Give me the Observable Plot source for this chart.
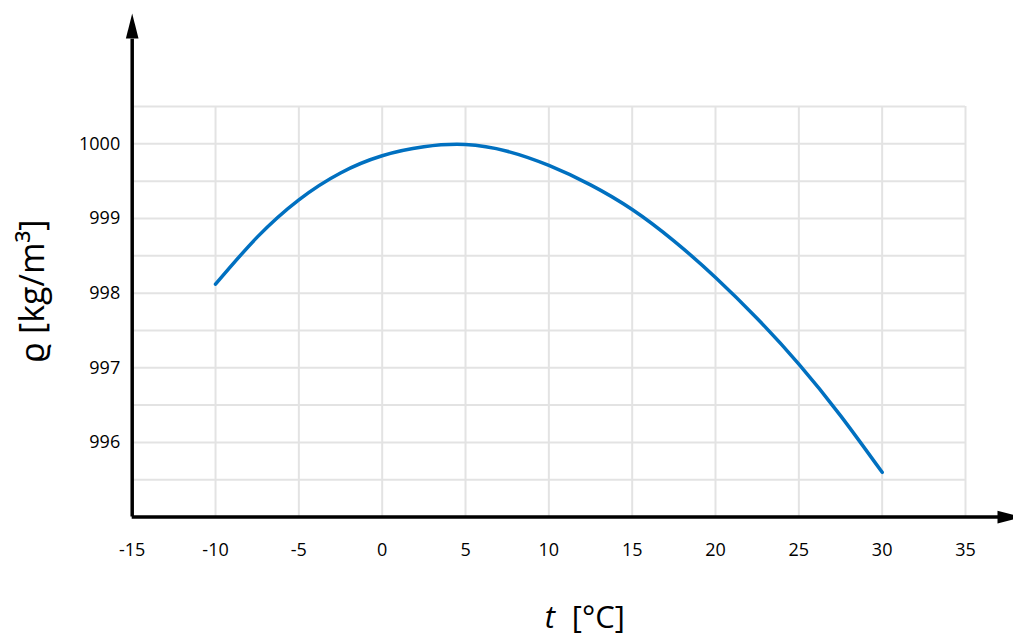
<!DOCTYPE html>
<html><head><meta charset="utf-8">
<script src="https://cdn.jsdelivr.net/npm/d3@7"></script>
<script src="https://cdn.jsdelivr.net/npm/@observablehq/plot@0.6"></script>
<style>body{margin:0;background:#fff} svg{display:block}</style>
</head><body><div id="chart"></div>
<script>
// Water density ϱ [kg/m³] versus temperature t [°C]
const temperature = [-10,-7.5,-5,-2.5,0,2.5,5,7.5,10,12.5,15,17.5,20,22.5,25,27.5,30];
const density = [998.12,998.75,999.25,999.61,999.84,999.96,999.99,999.90,999.71,999.45,999.12,998.70,998.21,997.66,997.05,996.36,995.60];
const xTicks = [-15,-10,-5,0,5,10,15,20,25,30,35];
const yTicks = [996,997,998,999,1000];
const yGrid = [995.5,996,996.5,997,997.5,998,998.5,999,999.5,1000,1000.5];
const xTitle = "t";
const xUnit = "[°C]";
const yTitle = "ϱ [kg/m³]";

const data = temperature.map((t, i) => ({t, rho: density[i]}));
const arrowHeads = [{x: -15, y: 1001.746, angle: 0}, {x: 38.42, y: 995, angle: 90}];

const arrowShape = {
  draw(ctx, l, r) {
    ctx.moveTo(0, -l);
    ctx.lineTo(r, 0);
    ctx.lineTo(-r, 0);
    ctx.closePath();
  }
};

const chart = Plot.plot({
  width: 1013, height: 639,
  marginLeft: 131.7, marginRight: 48, marginTop: 106, marginBottom: 122.4,
  style: {fontFamily: "'Open Sans', sans-serif", fontSize: "18px", color: "#000", background: "#fff", overflow: "visible"},
  x: {domain: [-15, 35], axis: null},
  y: {domain: [995, 1000.5], axis: null},
  marks: [
    Plot.ruleY(yGrid, {x1: -15, x2: 35, stroke: "#e3e3e3", strokeWidth: 2}),
    Plot.ruleX(xTicks.slice(1), {y1: 995, y2: 1000.5, stroke: "#e3e3e3", strokeWidth: 2}),
    Plot.line(data, {x: "t", y: "rho", stroke: "#0070c0", strokeWidth: 3.5, curve: "natural"}),
    Plot.ruleX([-15], {y1: 995, y2: 1001.4, stroke: "#000", strokeWidth: 3.5}),
    Plot.ruleY([995], {x1: -15, x2: 37.5, stroke: "#000", strokeWidth: 3.5}),
    Plot.vector(arrowHeads, {x: "x", y: "y", rotate: "angle", length: 25, r: 6.3, shape: arrowShape, anchor: "end", fill: "#000", stroke: "none"}),
    Plot.axisX(xTicks, {tickSize: 0, tickPadding: 26, tickFormat: d => String(d), label: null, fontSize: 18}),
    Plot.axisY(yTicks, {tickSize: 0, tickPadding: 12, tickFormat: d => String(d), label: null, fontSize: 18}),
    Plot.text([yTitle], {x: -15, y: 998.03, dx: -99, rotate: -90, text: d => d, fontSize: 34, fill: "#000"}),
    Plot.text([xTitle], {x: 10, y: 995, dx: -4, dy: 101, text: d => d, textAnchor: "start", fontSize: 31, fontStyle: "italic", fill: "#000"}),
    Plot.text([xUnit], {x: 10, y: 995, dx: 23, dy: 101, text: d => d, textAnchor: "start", fontSize: 31, fill: "#000"})
  ]
});
document.getElementById("chart").appendChild(chart);
</script>
</body></html>
